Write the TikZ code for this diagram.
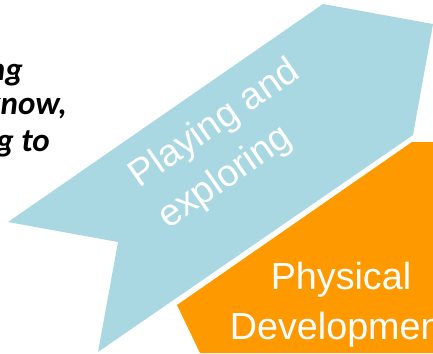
\documentclass[tikz,border=0pt]{standalone}
\usepackage{fontspec}
\setmainfont{Liberation Sans}
\newfontfamily\leftfont{Carlito}
\definecolor{lblue}{RGB}{170,216,226}
\definecolor{orng}{RGB}{255,153,0}
\begin{document}
\begin{tikzpicture}[x=1bp,y=-1bp,
  bigtext/.style={text=white,inner sep=0pt,font=\fontsize{37.7bp}{50bp}\selectfont},
  sidetext/.style={text=black,inner sep=0pt,anchor=base east,font=\leftfont\bfseries\itshape\fontsize{33bp}{36bp}\selectfont}]
\useasboundingbox (0,0) rectangle (433,353);
\clip (0,0) rectangle (433,353);
\fill[lblue] (323,4) -- (433,24) -- (413,135) -- (98,352) -- (118,242) -- (8,222) -- cycle;
\fill[orng] (412,142) -- (433,142) -- (433,353) -- (200,353) -- (177,305) -- cycle;
\node[bigtext,anchor=base west,rotate=34.7,align=left] (pe) at (168,230) {Playing and\\exploring};
\node[bigtext,anchor=base,align=center] (pd) at (341,339) {Physical\\Development};
\node[sidetext] (l1) at (23,80) {ng};
\node[sidetext] (l2) at (67,114) {know,};
\node[sidetext] (l3) at (50,151) {g to};
\end{tikzpicture}
\end{document}
